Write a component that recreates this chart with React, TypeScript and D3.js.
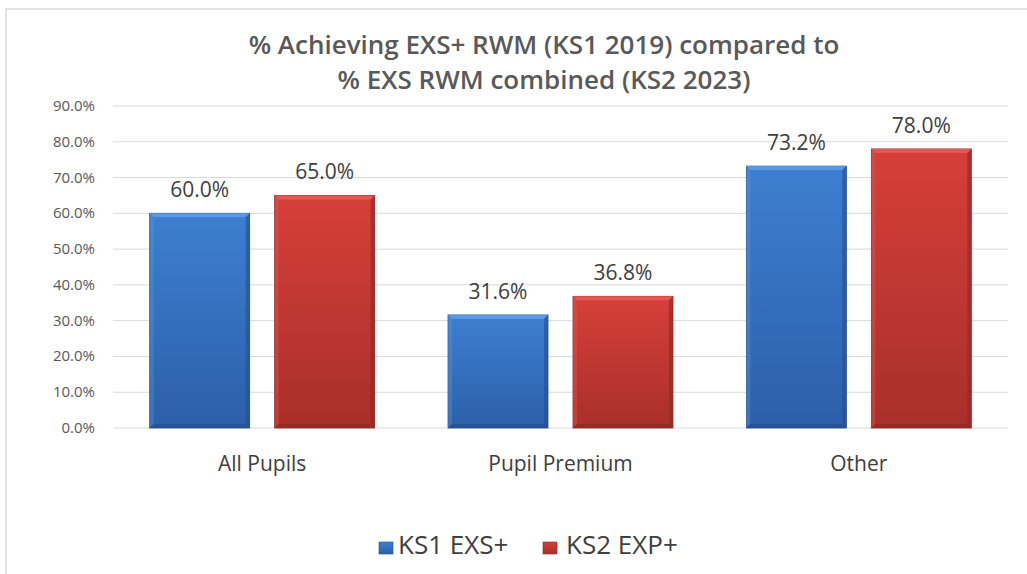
import React from "react";
import * as d3 from "d3";

// chart data
const categories = ["All Pupils", "Pupil Premium", "Other"];
const seriesNames = ["KS1 EXS+", "KS2 EXP+"];
const ks1Values = [60.0, 31.6, 73.2];
const ks2Values = [65.0, 36.8, 78.0];
const yTicks = [0, 10, 20, 30, 40, 50, 60, 70, 80, 90];
const titleLines = ["% Achieving EXS+ RWM (KS1 2019) compared to", "% EXS RWM combined (KS2 2023)"];

const W = 1027, H = 574;
const margin = {top: 106, right: 19, bottom: 146, left: 113};
const FONT = "'Open Sans', 'DejaVu Sans', sans-serif";

const palettes = [
  {light: "#5a9ce6", main: "#3d7fd1", dark: "#2c5fa8", edge: "#244f8f", id: "gBlue"},
  {light: "#e75a55", main: "#d63f3a", dark: "#a92f2a", edge: "#8e2824", id: "gRed"},
];

const App = () => {
  const x0 = d3.scaleBand<string>().domain(categories)
    .range([margin.left, W - margin.right])
    .paddingInner(0.246).paddingOuter(0.123);
  const x1 = d3.scaleBand<string>().domain(seriesNames)
    .range([0, x0.bandwidth()]).paddingInner(0.2);
  const y = d3.scaleLinear().domain([0, 90]).range([H - margin.bottom, margin.top]);

  const rows = categories.map((c, i) => ({cat: c, vals: [ks1Values[i], ks2Values[i]]}));
  const bw = x1.bandwidth();

  const bar = (cat: string, si: number, v: number) => {
    const x = (x0(cat) as number) + (x1(seriesNames[si]) as number);
    const top = y(v), bot = y(0);
    const p = palettes[si];
    const b = 4;
    return (
      <g key={cat + si}>
        <rect x={x} y={top} width={bw} height={bot - top} fill={`url(#${p.id})`} stroke={p.edge} strokeWidth={0.8} />
        {/* bevel: top light strip, side/bottom darker */}
        <path d={`M${x},${top}L${x + bw},${top}L${x + bw - b},${top + b}L${x + b},${top + b}Z`} fill={p.light} opacity={0.9} />
        <path d={`M${x},${top}L${x + b},${top + b}L${x + b},${bot - b}L${x},${bot}Z`} fill={p.light} opacity={0.35} />
        <path d={`M${x + bw},${top}L${x + bw - b},${top + b}L${x + bw - b},${bot - b}L${x + bw},${bot}Z`} fill={p.edge} opacity={0.6} />
        <path d={`M${x},${bot}L${x + b},${bot - b}L${x + bw - b},${bot - b}L${x + bw},${bot}Z`} fill={p.edge} opacity={0.7} />
        <text x={x + bw / 2} y={top - 16} textAnchor="middle" fontFamily={FONT} fontSize={21} fill="#404040">
          {d3.format(".1f")(v) + "%"}
        </text>
      </g>
    );
  };

  return (
    <svg width={W} height={H} style={{position: "absolute", left: 0, top: 0, background: "#fff"}}>
      <defs>
        {palettes.map(p => (
          <linearGradient key={p.id} id={p.id} x1="0" y1="0" x2="0" y2="1">
            <stop offset="0%" stopColor={p.main} />
            <stop offset="100%" stopColor={p.dark} />
          </linearGradient>
        ))}
      </defs>
      <rect x={6} y={9} width={W + 10} height={H + 10} fill="none" stroke="#d9d9d9" strokeWidth={1.5} />

      {titleLines.map((t, i) => (
        <text key={i} x={544} y={54 + i * 35} textAnchor="middle" fontFamily={FONT} fontWeight={600} fontSize={26} fill="#595959">{t}</text>
      ))}

      {yTicks.map(t => (
        <g key={t}>
          <line x1={margin.left} x2={W - margin.right} y1={y(t)} y2={y(t)} stroke="#d9d9d9" strokeWidth={1} />
          <text x={95} y={y(t) + 5} textAnchor="end" fontFamily={FONT} fontSize={15} fill="#595959">{d3.format(".1f")(t) + "%"}</text>
        </g>
      ))}

      {rows.map(r => r.vals.map((v, si) => bar(r.cat, si, v)))}

      {categories.map(c => (
        <text key={c} x={(x0(c) as number) + x0.bandwidth() / 2} y={471} textAnchor="middle" fontFamily={FONT} fontSize={21} fill="#404040">{c}</text>
      ))}

      {seriesNames.map((s, i) => {
        const lx = [379, 543][i];
        const tx = [398, 566][i];
        const p = palettes[i];
        return (
          <g key={s}>
            <rect x={lx} y={542} width={14} height={12} fill={`url(#${p.id})`} stroke={p.edge} strokeWidth={0.6} />
            <text x={tx} y={554} fontFamily={FONT} fontSize={26} fill="#404040">{s}</text>
          </g>
        );
      })}
    </svg>
  );
};

export default App;
